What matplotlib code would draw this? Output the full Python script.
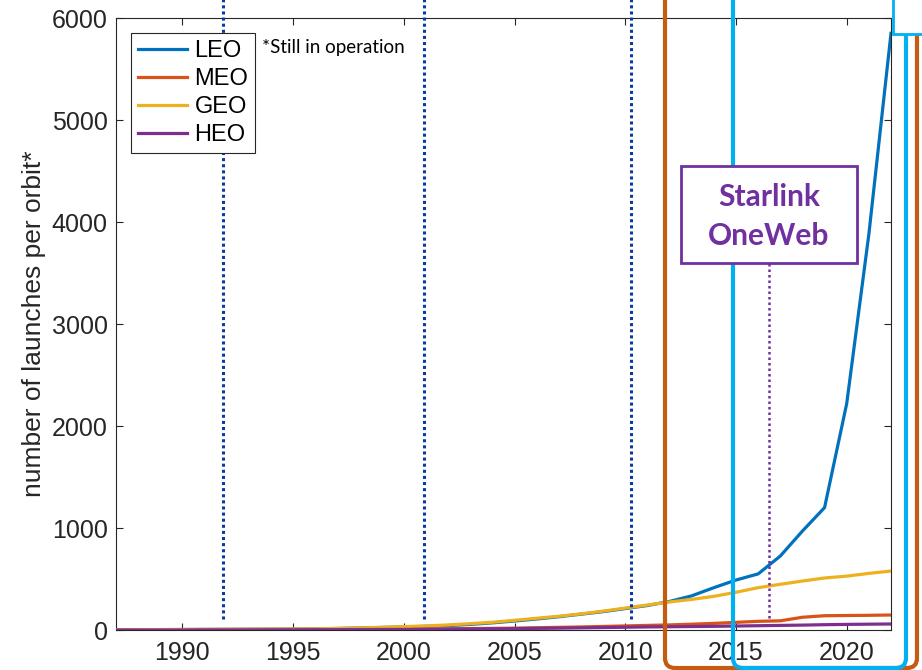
import matplotlib.pyplot as plt
import matplotlib.transforms as mtransforms
from matplotlib.patches import FancyBboxPatch, Rectangle

# launches per orbit, still in operation
years = list(range(1987, 2023))
leo = [2, 3, 4, 5, 6, 7, 8, 9, 10, 12, 15, 20, 25, 30, 36, 43, 55, 70, 88, 108,
       130, 155, 180, 210, 240, 280, 335, 415, 490, 550, 725, 970, 1200, 2220, 3880, 5850]
meo = [0, 0, 0, 1, 1, 1, 2, 2, 3, 3, 4, 5, 6, 8, 10, 12, 14, 16, 18, 22,
       26, 30, 35, 40, 45, 50, 57, 65, 75, 85, 90, 125, 140, 142, 144, 147]
geo = [3, 3, 4, 5, 6, 7, 8, 9, 10, 12, 15, 20, 26, 33, 40, 50, 62, 76, 95, 115,
       135, 158, 185, 215, 245, 275, 300, 330, 370, 415, 448, 480, 510, 528, 555, 578]
heo = [0, 0, 0, 0, 1, 1, 1, 2, 2, 3, 3, 4, 5, 6, 7, 8, 10, 12, 14, 16,
       18, 21, 24, 27, 30, 32, 34, 36, 39, 42, 45, 48, 52, 55, 57, 59]
labels = ['LEO', 'MEO', 'GEO', 'HEO']
colors = ['#0072BD', '#D95319', '#EDB120', '#7E2F8E']

# event markers (years)
blue_events = [1991.85, 2000.9, 2010.25]
starlink_year = 2016.5

xticks = [1990, 1995, 2000, 2005, 2010, 2015, 2020]
yticks = [0, 1000, 2000, 3000, 4000, 5000, 6000]

plt.rcParams['font.family'] = ['Liberation Sans', 'DejaVu Sans']

W, H = 922, 670
fig = plt.figure(figsize=(W / 100, H / 100), dpi=100)
ax = fig.add_axes([116 / W, 40 / H, 775 / W, 612 / H])

for s, lab, c in zip([leo, meo, geo, heo], labels, colors):
    ax.plot(years, s, color=c, lw=2.3, label=lab, zorder=3)

ax.set_xlim(1987, 2022)
ax.set_ylim(0, 6000)
ax.set_xticks(xticks)
ax.set_yticks(yticks)
ax.tick_params(direction='in', length=5, width=0.8, colors='#262626',
               labelsize=18, top=True, right=True)
ax.tick_params(axis='x', pad=8)
ax.tick_params(axis='y', pad=6)
for sp in ax.spines.values():
    sp.set_color('#262626')
    sp.set_linewidth(0.8)
ax.set_ylabel('number of launches per orbit*', fontsize=19, color='#262626')
ax.yaxis.set_label_coords(-0.09, 0.5)

leg = ax.legend(loc='upper left', bbox_to_anchor=(0.019, 0.975), borderaxespad=0,
                fontsize=17, handlelength=2.1, handletextpad=0.3, labelspacing=0.25,
                fancybox=False, framealpha=1, edgecolor='#262626', borderpad=0.3)
leg.get_frame().set_linewidth(0.8)
leg.set_zorder(5)
ax.text(262, H - 47, '*Still in operation', transform=mtransforms.IdentityTransform(),
        fontsize=13.5, family=['Lato', 'DejaVu Sans'], va='center', ha='left')

# dotted event lines (extend above the axes)
for x in blue_events:
    ax.plot([x, x], [110, 6200], color='#0a3aa0', lw=2.2, ls=(0, (1, 1)),
            clip_on=False, zorder=4)
ax.plot([starlink_year, starlink_year], [120, 3600], color='#7030A0', lw=1.8,
        ls=(0, (1, 1.2)), clip_on=False, zorder=4)

# overlay frames drawn in pixel coordinates
pix = mtransforms.IdentityTransform()
fig.add_artist(FancyBboxPatch((665, 2), 252, 720, boxstyle='round,pad=0,rounding_size=10',
                              transform=pix, fill=False, ec='#C55A11', lw=3, zorder=6))
fig.add_artist(FancyBboxPatch((733, 2), 173, 720, boxstyle='round,pad=0,rounding_size=10',
                              transform=pix, fill=False, ec='#00B0F0', lw=3, zorder=7))
fig.add_artist(Rectangle((893, H - 34), 60, 60, transform=pix, fc='white',
                         ec='#00B0F0', lw=2, zorder=8))

# Starlink / OneWeb box
fig.add_artist(Rectangle((681, H - 263), 176, 97, transform=pix, fc='white',
                         ec='#7030A0', lw=2, zorder=9))
fig.text(769 / W, 1 - 197 / H, 'Starlink', color='#7030A0', fontsize=21.5, fontweight='bold',
         family=['Lato', 'DejaVu Sans'], ha='center', va='center', zorder=10)
fig.text(769 / W, 1 - 236 / H, 'OneWeb', color='#7030A0', fontsize=21.5, fontweight='bold',
         family=['Lato', 'DejaVu Sans'], ha='center', va='center', zorder=10)

fig.savefig('out.png', dpi=100)
